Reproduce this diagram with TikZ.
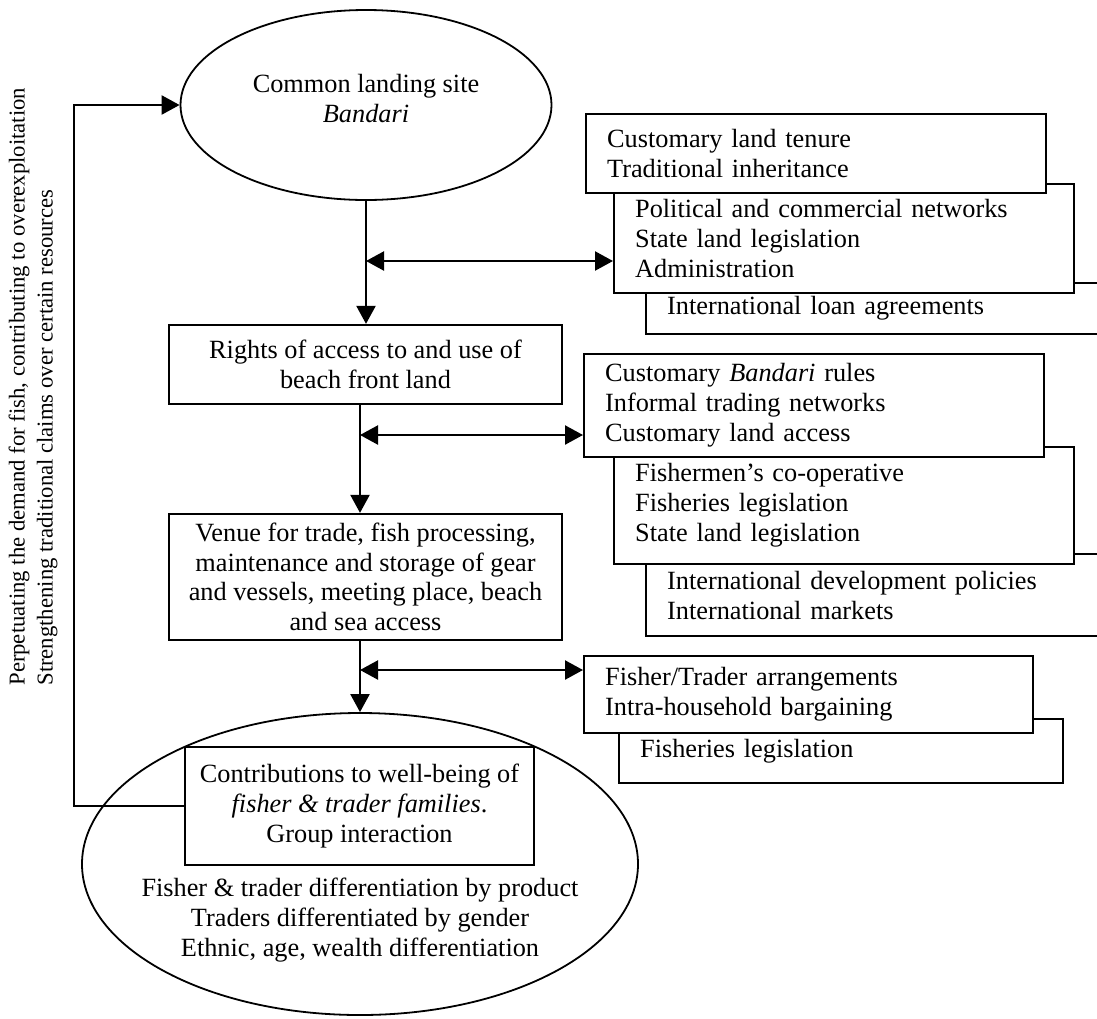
\documentclass[tikz,border=0pt]{standalone}
\usepackage{fontspec}
\setmainfont{Liberation Serif}
\usetikzlibrary{arrows.meta,shapes.geometric,calc}
\begin{document}
\begin{tikzpicture}[x=0.5pt,y=-0.5pt,
  every node/.style={font=\fontsize{13.15}{15}\selectfont},
  arr/.style={line width=1.15pt,-{Triangle[length=9pt,width=9.5pt]}},
  dbl/.style={line width=1.15pt,{Triangle[length=9pt,width=9.5pt]}-{Triangle[length=9pt,width=9.5pt]}},
  cbox/.style={draw,line width=1.15pt,fill=white,align=center,inner sep=0pt},
  lbox/.style={draw,line width=1.15pt,fill=white,anchor=north west,
               inner xsep=10.5pt,inner ysep=0pt,align=left},
  oval/.style={draw,ellipse,line width=0.9pt,inner sep=0pt},
  sidetext/.style={rotate=90,anchor=west,align=left,inner sep=0pt,
                   font=\fontsize{11.35}{14}\selectfont}]

\useasboundingbox (0,0) rectangle (1097,1018);
\clip (0,0) rectangle (1097,1018);

% central column
\node[oval,minimum width=185.5pt,minimum height=95pt] (site) at (366,105) {};
\node[align=center] (sitetext) at (366,99) {Common landing site\\\textit{Bandari}};

\node[cbox,minimum width=196.5pt,minimum height=39.5pt] (rights) at (365.5,364.5)
  {Rights of access to and use of\\beach front land};

\node[cbox,minimum width=196.5pt,minimum height=63pt,
      font=\fontsize{13.15}{14.85}\selectfont] (venue) at (365.5,577)
  {Venue for trade, fish processing,\\maintenance and storage of gear\\and vessels, meeting place, beach\\and sea access};

\node[oval,minimum width=278pt,minimum height=151pt] (groups) at (360,864) {};
\node[align=center] (groupstext) at (360,920)
  {Fisher \& trader differentiation by product\\Traders differentiated by gender\\Ethnic, age, wealth differentiation};

\node[cbox,minimum width=174.5pt,minimum height=59pt] (wellbeing) at (359.5,806)
  {Contributions to well-being of\\\textit{fisher \& trader families}.\\Group interaction};

% institutional layers, first group
\node[lbox,text width=231.5pt,minimum height=25.5pt] (intlA) at (645,282)
  {International loan agreements};
\node[lbox,text width=209pt,minimum height=54.5pt] (stateA) at (613,183)
  {Political and commercial networks\\State land legislation\\Administration};
\node[lbox,text width=209pt,minimum height=39.5pt] (custA) at (585,113)
  {Customary land tenure\\Traditional inheritance};

% institutional layers, second group
\node[lbox,text width=231.5pt,minimum height=41pt] (intlB) at (645,553)
  {International development policies\\International markets};
\node[lbox,text width=209pt,minimum height=58.5pt] (stateB) at (613,446)
  {Fishermen’s co-operative\\Fisheries legislation\\State land legislation};
\node[lbox,text width=209pt,minimum height=51.5pt] (custB) at (583,353)
  {Customary \textit{Bandari} rules\\Informal trading networks\\Customary land access};

% institutional layers, third group
\node[lbox,text width=201pt,minimum height=32pt] (stateC) at (618,718)
  {Fisheries legislation};
\node[lbox,text width=203.5pt,minimum height=38.5pt] (custC) at (583,655)
  {Fisher/Trader arrangements\\Intra-household bargaining};

% main flow
\coordinate (s2) at (360,0);
\draw[arr] (site.south) -- (site.south |- rights.north);
\draw[arr] (rights.south -| s2) -- (venue.north -| s2);
\draw[arr] (venue.south -| s2) -- (groups.north);

% two-way links to the institutions
\coordinate (j1) at (366,261);
\coordinate (j2) at (360,435);
\coordinate (j3) at (360,670);
\draw[dbl] (j1) -- (j1 -| stateA.west);
\draw[dbl] (j2) -- (j2 -| custB.west);
\draw[dbl] (j3) -- (j3 -| custC.west);

% feedback loop
\coordinate (fb) at (74,0);
\draw[arr] (wellbeing.west) -- (wellbeing.west -| fb) -- (site.west -| fb) -- (site.west);

\node[sidetext] (feedback) at (33,686)
  {Perpetuating the demand for fish, contributing to overexploitation\\Strengthening traditional claims over certain resources};

\end{tikzpicture}
\end{document}
